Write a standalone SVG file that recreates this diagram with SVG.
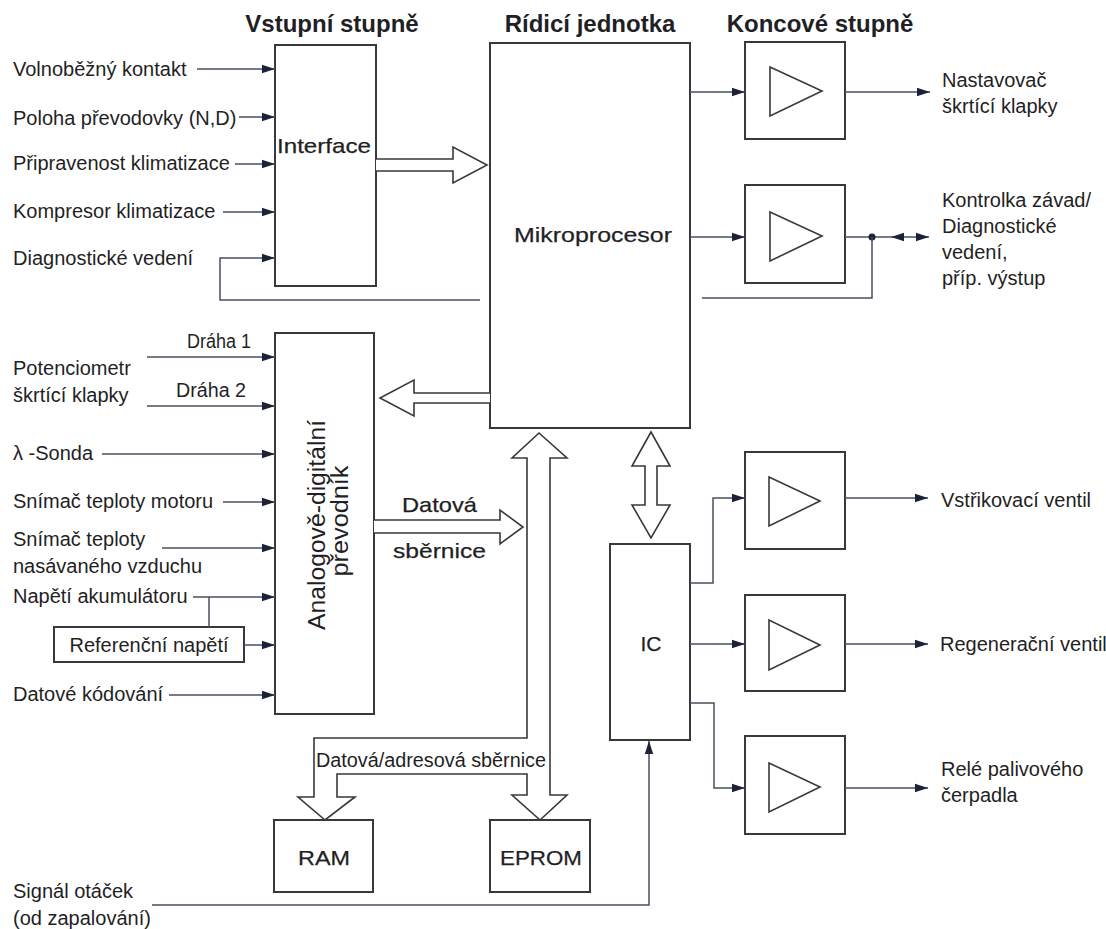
<svg xmlns="http://www.w3.org/2000/svg" width="1106" height="929" viewBox="0 0 1106 929">
<defs>
<marker id="ah" markerWidth="13" markerHeight="10" refX="13" refY="5" orient="auto" markerUnits="userSpaceOnUse"><path d="M0,0.8 L13,5 L0,9.2 z" fill="#1b2236"/></marker>
<style>
.t{font-family:"Liberation Sans",Arial,sans-serif;font-size:20px;fill:#1f1f25}
.b{font-family:"Liberation Sans",Arial,sans-serif;font-size:21px;fill:#1f1f25;stroke:#1f1f25;stroke-width:0.25}
.r{font-family:"Liberation Sans",Arial,sans-serif;font-size:23px;fill:#1f1f25}
.h{font-family:"Liberation Sans",Arial,sans-serif;font-size:24px;font-weight:bold;fill:#1f1f25}
.box{fill:#fff;stroke:#38383e;stroke-width:2}
.amp{fill:none;stroke:#38383e;stroke-width:1.6}
.ln{fill:none;stroke:#4a4f5c;stroke-width:1.5}
.arr{fill:none;stroke:#4a4f5c;stroke-width:1.5;marker-end:url(#ah)}
.bus{fill:#fff;stroke:#38383e;stroke-width:1.6;stroke-linejoin:miter}
</style>
</defs>
<rect width="1106" height="929" fill="#fff"/>

<g id="titles">
<text class="h" x="332" y="32" text-anchor="middle">Vstupní stupně</text>
<text class="h" x="590" y="32" text-anchor="middle">Rídicí jednotka</text>
<text class="h" x="820" y="32" text-anchor="middle">Koncové stupně</text>
</g>

<g id="interface">
<rect class="box" x="275" y="45" width="101" height="241"/>
<text class="b" x="277" y="153" font-size="22" textLength="94" lengthAdjust="spacingAndGlyphs">Interface</text>
</g>

<g id="mikroprocesor">
<rect class="box" x="490" y="43" width="200" height="385"/>
<text class="b" x="514" y="242" textLength="158" lengthAdjust="spacingAndGlyphs">Mikroprocesor</text>
</g>

<g id="adc">
<rect class="box" x="275" y="333" width="99" height="381"/>
<text class="r" transform="translate(325,525) rotate(-90)" text-anchor="middle" textLength="210" lengthAdjust="spacingAndGlyphs">Analogově-digitální</text>
<text class="r" transform="translate(348,521) rotate(-90)" text-anchor="middle" textLength="111" lengthAdjust="spacingAndGlyphs">převodník</text>
</g>

<g id="referencni-napeti">
<rect class="box" x="54" y="627" width="190" height="35" stroke-width="1.6"/>
<text class="t" x="149" y="652" text-anchor="middle">Referenční napětí</text>
</g>

<g id="ic">
<rect class="box" x="610" y="544" width="80" height="196"/>
<text class="b" x="651" y="651" font-size="22" text-anchor="middle">IC</text>
</g>

<g id="ram">
<rect class="box" x="274" y="820" width="99" height="72"/>
<text class="b" x="298" y="865" textLength="52" lengthAdjust="spacingAndGlyphs">RAM</text>
</g>

<g id="eprom">
<rect class="box" x="490" y="820" width="100" height="72"/>
<text class="b" x="500" y="865" textLength="82" lengthAdjust="spacingAndGlyphs">EPROM</text>
</g>

<g id="amp1">
<rect class="box" x="745" y="42" width="100" height="97"/>
<polygon class="amp" points="770,67 770,116 822,91"/>
</g>
<g id="amp2">
<rect class="box" x="745" y="185" width="100" height="98"/>
<polygon class="amp" points="770,212 770,261 822,236"/>
</g>
<g id="amp3">
<rect class="box" x="745" y="452" width="100" height="97"/>
<polygon class="amp" points="769,477 769,526 820,501"/>
</g>
<g id="amp4">
<rect class="box" x="745" y="595" width="100" height="96"/>
<polygon class="amp" points="769,620 769,670 820,645"/>
</g>
<g id="amp5">
<rect class="box" x="745" y="736" width="100" height="98"/>
<polygon class="amp" points="769,763 769,812 820,787"/>
</g>

<g id="input-labels">
<text class="t" x="13" y="76">Volnoběžný kontakt</text>
<text class="t" x="13" y="125">Poloha převodovky (N,D)</text>
<text class="t" x="13" y="170">Připravenost klimatizace</text>
<text class="t" x="13" y="218">Kompresor klimatizace</text>
<text class="t" x="13" y="265">Diagnostické vedení</text>
<text class="t" x="13" y="375">Potenciometr</text>
<text class="t" x="13" y="402">škrtící klapky</text>
<text class="t" x="187" y="348" font-size="17" textLength="64" lengthAdjust="spacingAndGlyphs">Dráha 1</text>
<text class="t" x="176" y="397" font-size="18" textLength="70" lengthAdjust="spacingAndGlyphs">Dráha 2</text>
<text class="t" x="13" y="460">λ -Sonda</text>
<text class="t" x="13" y="508">Snímač teploty motoru</text>
<text class="t" x="13" y="546">Snímač teploty</text>
<text class="t" x="13" y="573">nasávaného vzduchu</text>
<text class="t" x="13" y="603">Napětí akumulátoru</text>
<text class="t" x="13" y="701">Datové kódování</text>
<text class="t" x="13" y="898">Signál otáček</text>
<text class="t" x="13" y="925">(od zapalování)</text>
</g>

<g id="output-labels">
<text class="t" x="942" y="87">Nastavovač</text>
<text class="t" x="942" y="113">škrtící klapky</text>
<text class="t" x="942" y="207">Kontrolka závad/</text>
<text class="t" x="942" y="233">Diagnostické</text>
<text class="t" x="942" y="259">vedení,</text>
<text class="t" x="942" y="285">příp. výstup</text>
<text class="t" x="941" y="507">Vstřikovací ventil</text>
<text class="t" x="940" y="651">Regenerační ventil</text>
<text class="t" x="941" y="776">Relé palivového</text>
<text class="t" x="941" y="802">čerpadla</text>
</g>

<g id="connectors">
<path class="arr" d="M197,69 H275"/>
<path class="arr" d="M239,117 H275"/>
<path class="arr" d="M235,164 H275"/>
<path class="arr" d="M223,212 H275"/>
<path class="arr" d="M480,300 H220 V258 H275"/>
<path class="arr" d="M147,357 H275"/>
<path class="arr" d="M147,406 H275"/>
<path class="arr" d="M102,454 H275"/>
<path class="arr" d="M223,502 H275"/>
<path class="arr" d="M162,548 H275"/>
<path class="arr" d="M193,597 H275"/>
<path class="ln" d="M209,597 V627"/>
<path class="arr" d="M244,645 H275"/>
<path class="arr" d="M169,695 H275"/>

<path class="arr" d="M690,92 H745"/>
<path class="arr" d="M845,92 H930"/>
<path class="arr" d="M690,237 H745"/>
<path class="arr" d="M845,237 H929"/>
<polygon points="891,237 904,232.8 904,241.2" fill="#1b2236"/>
<circle cx="872" cy="237" r="3.5" fill="#1b2236"/>
<path class="ln" d="M702,298 H872 V237"/>

<path class="arr" d="M690,583 H713 V498 H745"/>
<path class="arr" d="M845,498 H928"/>
<path class="arr" d="M690,644 H745"/>
<path class="arr" d="M845,644 H928"/>
<path class="arr" d="M690,703 H714 V788 H745"/>
<path class="arr" d="M845,788 H928"/>
<path class="arr" d="M152,905 H649 V741"/>

<path class="bus" d="M376,159 H453 V147 L487,165 L453,183 V171 H376"/>
<path class="bus" d="M490,393 H414 V380 L380,398 L414,416 V403 H490"/>
<path class="bus" d="M374,520 H500 V510 L523,527 L500,544 V533 H374"/>
<path class="bus" d="M651,432 L670,466 H657 V505 H670 L651,538 L632,505 H645 V466 H632 Z"/>
<path class="bus" d="M527,458 V738 H314 V797 H298 L325,820 L355,797 H337 V774 H527 V795 H512 L540,820 L567,795 H550 V458 H567 L539,433 L512,458 Z"/>
<text class="t" x="316" y="767" textLength="230" lengthAdjust="spacingAndGlyphs">Datová/adresová sběrnice</text>
<text class="b" x="402" y="512" textLength="75" lengthAdjust="spacingAndGlyphs">Datová</text>
<text class="b" x="393" y="558" textLength="93" lengthAdjust="spacingAndGlyphs">sběrnice</text>
</g>
</svg>
